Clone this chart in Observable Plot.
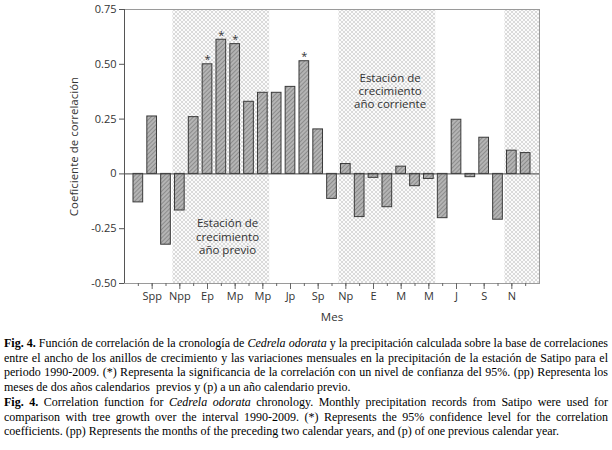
<!DOCTYPE html>
<html>
<head>
<meta charset="utf-8">
<script src="https://cdn.jsdelivr.net/npm/d3@7"></script>
<script src="https://cdn.jsdelivr.net/npm/@observablehq/plot@0.6"></script>
<style>
  html, body { margin: 0; padding: 0; background: #fff; width: 612px; }
  #chart svg { display: block; }
  #caption {
    font-family: "Liberation Serif", "Times New Roman", serif;
    font-size: 12px;
    line-height: 14.7px;
    color: #000;
    text-align: justify;
    padding: 6px 4px 0 4px;
    margin: 0;
  }
  #caption p { margin: 0; }
</style>
</head>
<body>
<div id="chart"></div>
<div id="caption">
  <p><b>Fig. 4.</b> Función de correlación de la cronología de <i>Cedrela odorata</i> y la precipitación calculada sobre la base de correlaciones entre el ancho de los anillos de crecimiento y las variaciones mensuales en la precipitación de la estación de Satipo para el periodo 1990-2009. (*) Representa la significancia de la correlación con un nivel de confianza del 95%. (pp) Representa los meses de dos años calendarios&nbsp; previos y (p) a un año calendario previo.</p>
  <p><b>Fig. 4.</b> Correlation function for <i>Cedrela odorata</i> chronology. Monthly precipitation records from Satipo were used for comparison with tree growth over the interval 1990-2009. (*) Represents the 95% confidence level for the correlation coefficients. (pp) Represents the months of the preceding two calendar years, and (p) of one previous calendar year.</p>
</div>
<script>
// ---- data ----
const months = ["Agpp","Spp","Opp","Npp","Dpp","Ep","Fp","Mp","Ap","Mp","Jp","Jp","Ap","Sp","Op","Np","Dp","E","F","M","A","M","J","J","A","S","O","N","D"];
const values = [-0.13, 0.262, -0.323, -0.167, 0.259, 0.50, 0.612, 0.592, 0.329, 0.37, 0.37, 0.397, 0.514, 0.203, -0.114, 0.045, -0.197, -0.018, -0.152, 0.033, -0.056, -0.023, -0.202, 0.247, -0.015, 0.165, -0.209, 0.106, 0.095];
const sigFlags = [0,0,0,0,0,1,1,1,0,0,0,0,1,0,0,0,0,0,0,0,0,0,0,0,0,0,0,0,0];
// growing seasons: first and last month (1-based month number on the axis); the last runs to the edge
const seasonFirst = [4, 16, 28];
const seasonLast = [10, 22, 30];
const seasonLabels = ["Estación de\ncrecimiento\naño previo", "Estación de\ncrecimiento\naño corriente"];
const seasonLabelMonth = [7.45, 19.2];
const seasonLabelValue = [-0.285, 0.38];
const yTicks = [-0.5, -0.25, 0, 0.25, 0.5, 0.75];
const yTitle = "Coeficiente de correlación";
const xTitle = "Mes";

// ---- derived tables ----
const bars = months.map((m, i) => ({pos: i + 1, month: m, value: values[i], sig: sigFlags[i]}));
const nPos = months.length + 1; // axis spans 0..30
const yMin = yTicks[0], yMax = yTicks[yTicks.length - 1];
const seasons = seasonFirst.map((f, i) => ({x1: f - 0.5, x2: Math.min(seasonLast[i] + 0.5, nPos)}));
const notes = seasonLabels.map((t, i) => ({text: t, x: seasonLabelMonth[i], y: seasonLabelValue[i]}));
const allTicks = bars.map(d => d.pos);
const labelTicks = bars.filter(d => d.pos % 2 === 0).map(d => d.pos);
const halfWidth = 0.35;
const titles = [
  {text: yTitle, x: 0, y: (yMin + yMax) / 2, rotate: -90, dx: -50, dy: 0},
  {text: xTitle, x: nPos / 2, y: yMin, rotate: 0, dx: 0, dy: 34}
];

const chart = Plot.plot({
  width: 612,
  height: 330,
  marginLeft: 124,
  marginRight: 73,
  marginTop: 9,
  marginBottom: 47,
  style: {fontFamily: "'Open Sans', 'Noto Sans', sans-serif", fontSize: "11px", color: "#333", background: "#fff"},
  x: {domain: [0, nPos]},
  y: {domain: [yMin, yMax]},
  marks: [
    Plot.rect(seasons, {x1: "x1", x2: "x2", y1: yMin, y2: yMax, fill: "url(#shade)"}),
    Plot.frame({stroke: "#9a9a9a", strokeWidth: 1}),
    Plot.rectY(bars, {x1: d => d.pos - halfWidth, x2: d => d.pos + halfWidth, y1: 0, y2: "value", fill: "url(#hatch)", stroke: "#3a3a3a", strokeWidth: 1}),
    Plot.ruleY([0], {stroke: "#444", strokeWidth: 1}),
    Plot.ruleX([0], {stroke: "#555", strokeWidth: 1}),
    Plot.text(bars.filter(d => d.sig), {x: "pos", y: "value", text: () => "*", dy: -1, lineAnchor: "bottom", fontSize: 11, fill: "#333"}),
    Plot.text(notes, {x: "x", y: "y", text: "text", fontSize: 11.5, lineHeight: 1.15, fill: "#333"}),
    Plot.axisY({ticks: yTicks, tickSize: 5, tickPadding: 3, tickFormat: d => d === 0 ? "0" : d.toFixed(2), stroke: "#555", label: null, fontSize: 11}),
    Plot.axisX({ticks: allTicks, tickSize: 3, tickFormat: () => "", stroke: "#666", label: null}),
    Plot.axisX({ticks: labelTicks, tickSize: 6, tickPadding: 3, tickFormat: p => months[p - 1], stroke: "#666", label: null, fontSize: 11}),
    Plot.text(titles.slice(0, 1), {x: "x", y: "y", text: "text", rotate: -90, dx: -50, fontSize: 11.5, fill: "#333", clip: false}),
    Plot.text(titles.slice(1), {x: "x", y: "y", text: "text", dy: 34, fontSize: 11.5, fill: "#333", clip: false})
  ]
});

// patterns used by the fills
const svg = d3.select(chart);
const defs = svg.insert("defs", ":first-child");
const shade = defs.append("pattern").attr("id", "shade").attr("patternUnits", "userSpaceOnUse")
  .attr("width", 4).attr("height", 4);
shade.append("rect").attr("width", 4).attr("height", 4).attr("fill", "#fbfbfb");
shade.append("path").attr("d", "M0,0L4,4M4,0L0,4").attr("stroke", "#d6d6d6").attr("stroke-width", 0.9);
const hatch = defs.append("pattern").attr("id", "hatch").attr("patternUnits", "userSpaceOnUse")
  .attr("width", 3).attr("height", 3).attr("patternTransform", "rotate(45)");
hatch.append("rect").attr("width", 3).attr("height", 3).attr("fill", "#b4b4b4");
hatch.append("rect").attr("width", 1).attr("height", 3).attr("fill", "#8c8c8c");

document.getElementById("chart").appendChild(chart);
</script>
</body>
</html>
